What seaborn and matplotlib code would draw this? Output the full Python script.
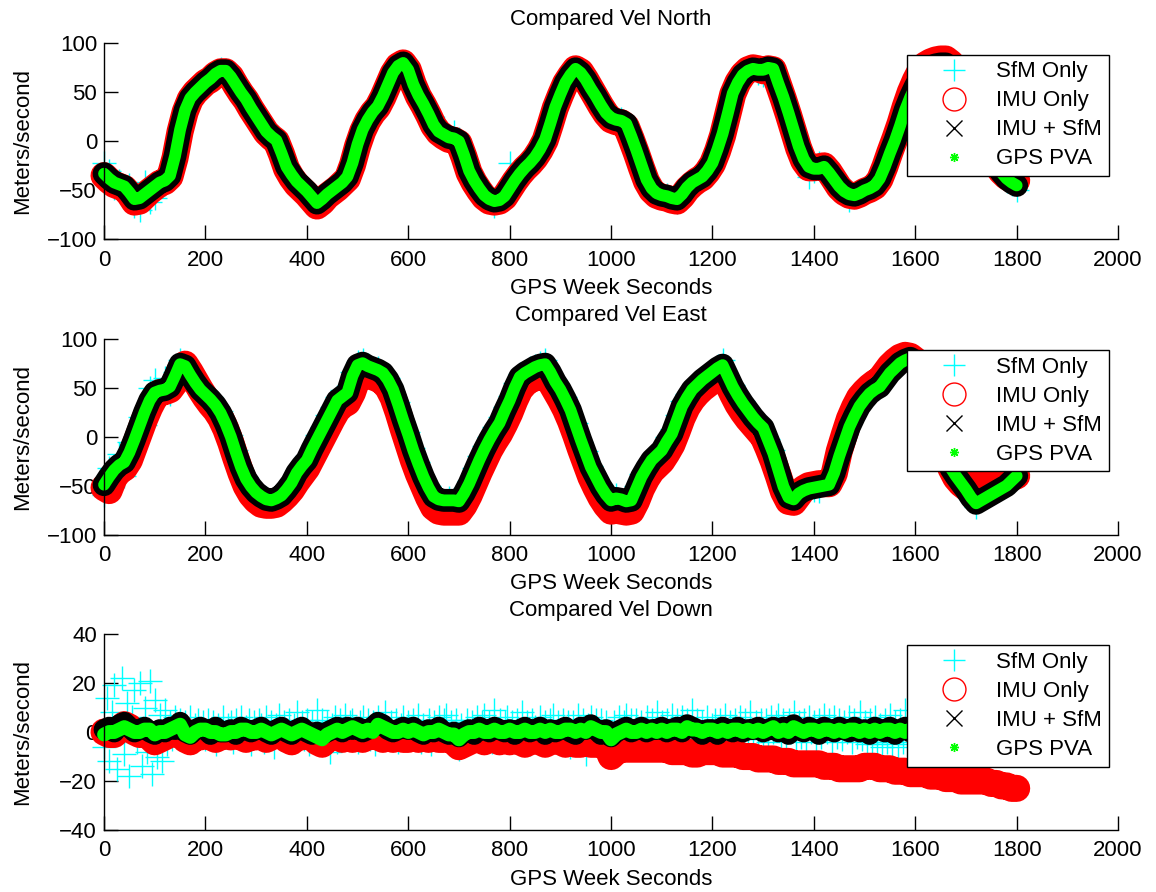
import matplotlib
matplotlib.use("Agg")
import matplotlib.pyplot as plt
import seaborn as sns
import pandas as pd
from matplotlib.lines import Line2D

# sample times (GPS week seconds, relative), one value every 10 s
t = list(range(0, 1810, 10))
# SfM-only down velocity is shown denser: one value every 5 s
t_down_sfm = list(range(0, 1805, 5))

# ---------------- Compared Vel North ----------------
north_gps = [
    -33, -38, -42, -44, -46, -52, -59, -58, -54, -50,
    -46, -42, -40, -35, -15, 12, 32, 44, 50, 55,
    60, 64, 69, 72, 72, 66, 58, 50, 43, 34,
    26, 18, 10, 5, 1, -12, -26, -34, -41, -46,
    -51, -57, -63, -59, -54, -50, -46, -42, -36, -22,
    -3, 12, 22, 30, 36, 46, 58, 70, 77, 80,
    73, 58, 47, 38, 28, 17, 10, 7, 4, 3,
    0, -14, -30, -40, -48, -55, -59, -61, -60, -56,
    -48, -40, -33, -27, -22, -16, -8, 2, 18, 35,
    48, 60, 68, 74, 70, 63, 54, 46, 37, 29,
    24, 22, 21, 18, 5, -9, -24, -39, -48, -53,
    -55, -56, -58, -59, -54, -47, -42, -39, -36, -30,
    -22, -8, 8, 28, 49, 60, 68, 72, 74, 73,
    73, 75, 74, 59, 45, 29, 12, -5, -18, -26,
    -28, -28, -26, -32, -39, -46, -51, -54, -55, -53,
    -50, -48, -45, -38, -26, -12, 1, 16, 32, 45,
    56, 65, 72, 76, 78, 79, 79, 75, 66, 53,
    40, 27, 14, 2, -8, -17, -25, -32, -38, -42,
    -45]
north_fused = north_gps  # IMU + SfM lies on top of GPS PVA at this scale
north_imu = [
    -35, -40, -44, -46, -48, -54, -62, -61, -56, -51,
    -47, -43, -41, -36, -17, 10, 30, 43, 50, 55,
    60, 63, 68, 71, 71, 66, 57, 49, 42, 33,
    25, 17, 9, 4, 0, -13, -28, -37, -44, -49,
    -54, -60, -66, -62, -56, -52, -48, -43, -38, -24,
    -5, 10, 21, 29, 35, 45, 57, 69, 77, 80,
    73, 58, 46, 37, 27, 16, 9, 5, 2, 1,
    -2, -16, -32, -42, -50, -57, -61, -62, -61, -57,
    -49, -41, -34, -28, -23, -17, -9, 1, 17, 34,
    47, 59, 67, 74, 71, 63, 54, 45, 36, 28,
    22, 20, 19, 15, 2, -12, -27, -41, -50, -55,
    -57, -58, -60, -61, -56, -49, -44, -40, -37, -31,
    -23, -10, 6, 27, 48, 60, 68, 73, 75, 74,
    72, 74, 73, 58, 43, 27, 10, -7, -20, -27,
    -27, -26, -25, -31, -39, -47, -52, -55, -56, -54,
    -51, -49, -46, -39, -26, -11, 3, 18, 35, 50,
    62, 72, 78, 81, 83, 84, 84, 80, 70, 56,
    42, 28, 15, 3, -7, -16, -24, -31, -36, -39,
    -40]
north_sfm = [
    -22, -30, -48, -40, -52, -45, -66, -70, -42, -62,
    -58, -35, -44, -38, -18, 10, 34, 42, 52, 56,
    57, 66, 70, 74, 73, 68, 55, 52, 44, 33,
    28, 15, 12, 7, -2, -10, -28, -33, -43, -45,
    -50, -59, -64, -57, -55, -48, -47, -40, -37, -24,
    -2, 10, 24, 28, 38, 44, 60, 68, 78, 79,
    71, 60, 45, 39, 26, 20, 12, 14, 2, 10,
    2, -12, -32, -38, -50, -54, -61, -66, -58, -57,
    -22, -42, -31, -29, -20, -18, -6, 0, 20, 33,
    50, 58, 70, 73, 72, 61, 55, 44, 38, 27,
    25, 20, 23, 16, 7, -11, -22, -40, -47, -55,
    -57, -55, -60, -62, -52, -48, -40, -41, -35, -31,
    -20, -10, 10, 26, 50, 58, 70, 71, 73, 70,
    68, 74, 72, 61, 43, 30, 10, -3, -20, -36,
    -30, -22, -28, -30, -41, -44, -53, -60, -54, -52,
    -48, -50, -43, -40, -24, -14, 3, 14, 34, 44,
    58, 63, 74, 75, 80, 77, 81, 73, 68, 51,
    42, 25, 16, 0, -10, -15, -27, -30, -40, -44,
    -50]

# ---------------- Compared Vel East ----------------
east_gps = [
    -49, -41, -34, -29, -26, -16, -3, 11, 25, 37,
    45, 47, 48, 51, 62, 74, 72, 63, 55, 48,
    43, 38, 32, 24, 13, 0, -16, -31, -43, -51,
    -57, -61, -64, -65, -63, -60, -54, -47, -37, -30,
    -24, -13, -3, 7, 17, 27, 37, 41, 45, 62,
    73, 75, 72, 70, 68, 65, 58, 48, 33, 17,
    2, -14, -28, -41, -52, -61, -64, -65, -65, -65,
    -66, -58, -48, -36, -24, -13, -3, 6, 14, 26,
    37, 50, 61, 65, 68, 71, 73, 74, 66, 56,
    48, 38, 27, 12, -3, -17, -31, -41, -51, -59,
    -65, -63, -64, -66, -65, -53, -41, -32, -24, -19,
    -14, -5, 3, 17, 31, 40, 48, 53, 58, 62,
    66, 70, 73, 62, 51, 42, 34, 27, 20, 14,
    9, -4, -17, -34, -51, -62, -64, -58, -55, -53,
    -52, -51, -50, -49, -37, -20, -5, 10, 21, 31,
    38, 44, 48, 51, 58, 65, 70, 75, 78, 80,
    77, 70, 58, 42, 25, 8, -15, -32, -40, -47,
    -54, -62, -68, -65, -62, -59, -56, -53, -50, -45,
    -40]
east_fused = east_gps  # IMU + SfM lies on top of GPS PVA at this scale
east_imu = [
    -52, -55, -42, -35, -32, -24, -10, 4, 18, 30,
    40, 45, 46, 48, 55, 68, 74, 66, 57, 48,
    40, 33, 27, 19, 8, -6, -22, -37, -50, -59,
    -65, -69, -70, -70, -69, -65, -60, -54, -46, -39,
    -32, -22, -12, -2, 8, 18, 27, 32, 35, 45,
    60, 62, 62, 61, 59, 56, 50, 40, 25, 8,
    -8, -24, -38, -50, -62, -72, -76, -77, -77, -77,
    -77, -70, -60, -48, -36, -25, -14, -5, 3, 13,
    24, 37, 48, 54, 58, 60, 61, 62, 56, 47,
    38, 28, 16, 2, -13, -27, -41, -52, -62, -70,
    -76, -75, -76, -77, -76, -66, -53, -43, -35, -30,
    -25, -17, -8, 5, 19, 30, 38, 44, 49, 53,
    57, 60, 62, 54, 43, 33, 25, 18, 12, 6,
    0, -12, -25, -40, -56, -66, -67, -60, -53, -50,
    -49, -48, -48, -48, -38, -15, 2, 18, 30, 40,
    46, 51, 55, 58, 65, 72, 77, 81, 83, 82,
    78, 70, 58, 42, 24, 6, -14, -32, -42, -48,
    -52, -50, -45, -42, -42, -43, -44, -45, -44, -42,
    -40]
east_sfm = [
    -60, -32, -45, -18, -40, -5, -15, 20, 12, 50,
    58, 38, 60, 44, 66, 78, 70, 62, 52, 50,
    40, 41, 30, 26, 12, 2, -14, -33, -41, -52,
    -55, -62, -63, -67, -62, -58, -52, -49, -35, -28,
    -20, -15, 2, 10, 22, 30, 40, 48, 50, 66,
    76, 78, 73, 68, 70, 63, 60, 46, 35, 15,
    5, -12, -26, -43, -50, -62, -62, -66, -63, -64,
    -64, -55, -45, -32, -20, -10, 0, 10, 20, 30,
    42, 55, 64, 66, 70, 72, 75, 78, 64, 58,
    45, 40, 25, 14, -5, -15, -30, -43, -49, -60,
    -63, -60, -65, -64, -63, -50, -38, -30, -22, -17,
    -12, 0, 8, 22, 36, 44, 50, 55, 60, 63,
    68, 72, 78, 60, 53, 40, 36, 24, 22, 12,
    6, -2, -14, -36, -48, -64, -62, -56, -57, -50,
    -54, -55, -48, -47, -32, -15, 0, 14, 25, 35,
    42, 46, 50, 53, 62, 66, 72, 76, 80, 78,
    75, 72, 56, 44, 22, 10, -12, -30, -38, -45,
    -55, -64, -72, -63, -60, -57, -54, -51, -48, -42,
    -36]

# ---------------- Compared Vel Down ----------------
down_gps = [
    -1, 0, 0, 1, 2, 1, 0, 0, 1, 1,
    -1, 0, 0, 1, 2, 3, -1, -2, 0, 1,
    1, 0, 0, -1, -1, 0, 0, 1, 1, 0,
    0, 1, 0, -1, 0, 1, 0, -1, 0, 1,
    0, -1, -2, -3, -1, 0, 1, 0, 1, 2,
    1, 0, 1, 0, 3, 2, 1, 0, 0, 1,
    0, 1, 0, -1, 0, 0, 1, 0, -1, -1,
    -3, -1, 0, 0, 1, 0, 0, 1, 0, 0,
    1, 0, 0, 1, 0, 0, 1, 0, 1, 0,
    0, 1, 1, 0, 1, 0, 2, 1, 0, 0,
    -3, -1, 0, 1, 0, 0, 1, 0, 1, 0,
    1, 0, 1, 1, 0, 2, 1, 1, 0, 1,
    1, 0, 1, 0, 1, 1, 0, 1, 0, 1,
    0, 1, 2, 0, 1, 0, 2, 1, 0, 1,
    1, 0, 1, 1, 0, 1, 0, 1, 1, 0,
    1, 0, 1, 0, 1, 1, 0, 1, 0, 1,
    1, 0, 1, 1, 0, 1, 0, 1, 1, 0,
    1, 0, 1, 1, 0, 1, 0, 1, 1, 0,
    0]
down_fused = [
    1, 2, 0, 3, 4, 2, 0, 1, 2, 0,
    -1, 1, 0, 2, 1, 4, 0, -1, 1, 2,
    1, -1, 2, 0, 0, 1, -1, 2, 1, 0,
    1, 2, 0, -1, 1, 2, 0, -1, 1, 2,
    0, -1, 0, -1, 0, 1, 2, 0, 2, 1,
    2, 0, 1, 2, 4, 3, 1, 0, 1, 2,
    1, 2, 0, -1, 1, 0, 2, 0, -1, 0,
    -2, 0, 1, -1, 2, 1, 0, 2, 1, 0,
    1, -1, 1, 2, 0, 1, 2, -1, 1, 0,
    1, 2, 0, -1, 2, 1, 3, 1, -1, 1,
    -2, 0, 1, 2, 0, 1, 2, 0, 1, 1,
    2, 0, 1, 2, 0, 3, 2, 1, -1, 1,
    1, -1, 2, 1, 0, 2, 0, 1, 1, 2,
    0, 1, 2, 0, 2, -1, 3, 1, 0, 2,
    1, -1, 2, 1, 0, 2, 1, 0, 2, 0,
    1, -1, 2, 1, 0, 2, -1, 1, 2, 0,
    1, 2, 0, 1, 2, 0, -1, 1, 2, 1,
    1, 0, 2, 1, 0, 2, -1, 1, 1, 2,
    1]
down_imu = [
    0, -1, -1, 1, 3, 2, 0, -1, 0, -2,
    -4, -3, -2, -1, 0, 2, -3, -4, -2, -2,
    -1, -2, -3, -2, -1, -2, -1, -2, -3, -2,
    -2, -1, -3, -2, -1, -1, -3, -4, -2, -2,
    -1, -2, -4, -5, -3, -2, -1, -3, -2, -3,
    -2, -3, -2, -1, -2, -3, -2, -3, -2, -3,
    -3, -2, -3, -2, -3, -2, -3, -3, -2, -4,
    -6, -5, -4, -3, -3, -4, -3, -3, -4, -3,
    -4, -3, -4, -5, -4, -3, -4, -5, -4, -3,
    -4, -5, -4, -5, -5, -4, -5, -5, -4, -5,
    -10, -8, -7, -7, -7, -7, -7, -7, -7, -7,
    -7, -7, -8, -8, -8, -8, -9, -9, -8, -8,
    -8, -8, -9, -9, -9, -9, -10, -10, -10, -11,
    -11, -11, -11, -12, -12, -12, -13, -13, -13, -13,
    -13, -13, -14, -14, -14, -15, -15, -15, -15, -15,
    -14, -14, -14, -15, -15, -15, -16, -16, -16, -17,
    -17, -17, -17, -18, -18, -18, -19, -19, -19, -20,
    -20, -20, -20, -20, -20, -21, -21, -22, -22, -23,
    -23]
down_sfm = [
    -6, 14, -12, 8, 19, -15, 3, 22, -9, 12,
    -18, 6, 17, -4, 20, -14, 10, -8, 21, -17,
    13, -10, 7, -12, 9, -5, 4, -3, 6, -2,
    5, -3, 4, 1, 6, -4, 3, 5, -2, 4,
    -3, 5, 0, 4, -5, 3, 1, 6, -2, 3,
    4, -4, 5, 0, 6, -3, 2, 5, -5, 4,
    -2, 5, 3, -4, 6, 0, 4, -6, 3, 7,
    -3, 4, 1, 5, -4, 3, 8, -2, 4, -3,
    5, -5, 4, -2, 9, -3, 5, 0, 4, -8,
    3, 6, -4, 5, -2, 7, -3, 4, 5, 0,
    -4, 4, 6, -2, 5, -3, 4, -5, 6, 2,
    0, 8, -3, 4, -2, 5, -4, 3, 6, -2,
    4, -3, 5, 1, 7, -4, 3, -2, 5, -5,
    4, 0, 6, -3, 5, 7, -2, 4, -4, 5,
    -7, 3, -5, 5, -2, 4, -3, 6, 0, 4,
    7, -2, 4, -4, 9, 0, 5, -3, 4, 6,
    -2, 4, -4, 5, 1, 8, -3, 4, -5, 5,
    2, -3, 6, 0, 4, -4, 5, 7, -2, 4,
    -3, 5, 0, 4, -6, 4, -2, 7, -4, 5,
    -9, 3, 6, -2, 5, -3, 5, 0, 4, -4,
    -6, 4, -2, 6, -3, 4, 7, 0, 5, -3,
    5, -2, 4, -4, 6, 0, 5, -3, 8, -2,
    4, -3, 5, 1, 7, -2, 5, -4, 6, 0,
    5, -3, 9, -2, 5, 0, 4, -4, 6, -2,
    3, 5, -3, 5, 0, 7, -2, 4, -4, 5,
    0, 6, -3, 5, -2, 8, 0, 4, -3, 5,
    -2, 5, -4, 6, 0, 4, 7, -3, 5, -2,
    5, 0, 8, -3, 4, -2, 5, -4, 6, 0,
    4, -3, 5, -2, 7, 0, 5, -4, 6, -2,
    5, -3, 4, 0, 6, -4, 5, -2, 8, -3,
    4, -5, 5, -4, 6, -5, 3, -6, 5, -4,
    7, -5, 4, -6, 5, -4, 9, -5, 3, -3,
    5, -2, 6, 0, 4, -3, 5, -2, 5, 0,
    5, -3, 4, -2, 6, 0, 5, -3, 5, -2,
    4, 0, 5, -3, 5, -2, 6, 0, 4, -3,
    5, -2, 5, 0, 6, -3, 4, -2, 5, 0,
    3]

titles = ["Compared Vel North", "Compared Vel East", "Compared Vel Down"]
series_labels = ["SfM Only", "IMU Only", "IMU + SfM", "GPS PVA"]
x_ticks = [0, 200, 400, 600, 800, 1000, 1200, 1400, 1600, 1800, 2000]
y_ticks_hv = [-100, -50, 0, 50, 100]
y_ticks_down = [-40, -20, 0, 20, 40]

# (sfm times, sfm, imu, fused, gps, y-limits, y-ticks, band widths red/black/green)
panels = [
    (t, north_sfm, north_imu, north_fused, north_gps, (-100, 100), y_ticks_hv, (19.5, 16.5, 8.5)),
    (t, east_sfm, east_imu, east_fused, east_gps, (-100, 100), y_ticks_hv, (19.5, 16.5, 8.5)),
    (t_down_sfm, down_sfm, down_imu, down_fused, down_gps, (-40, 40), y_ticks_down, (19.5, 15.0, 10.0)),
]

sns.set_theme(style="white")
plt.rcParams["font.family"] = ["Liberation Sans", "DejaVu Sans"]
plt.rcParams["text.color"] = "black"
plt.rcParams["axes.labelcolor"] = "black"
plt.rcParams["xtick.color"] = "black"
plt.rcParams["ytick.color"] = "black"

FS = 16
C_SFM, C_IMU, C_FUSED, C_GPS = "#00FFFF", "#FF0000", "#000000", "#00FF00"

fig = plt.figure(figsize=(11.56, 8.92), dpi=100, facecolor="white")
bottoms = [0.7317, 0.4006, 0.0695]

for (ts, sfm, imu, fused, gps, ylim, yticks, widths), title, b in zip(panels, titles, bottoms):
    ax = fig.add_axes([0.0900, b, 0.8772, 0.2197])
    df = pd.DataFrame({"t": t, "imu": imu, "fused": fused, "gps": gps})
    df_sfm = pd.DataFrame({"t": ts, "sfm": sfm})
    w_imu, w_fused, w_gps = widths

    sns.scatterplot(data=df_sfm, x="t", y="sfm", ax=ax, marker="+", s=275,
                    color=C_SFM, linewidth=1.0, zorder=1, legend=False, clip_on=False)
    line_kw = dict(estimator=None, sort=False, legend=False,
                   solid_capstyle="round", solid_joinstyle="round", clip_on=False)
    sns.lineplot(data=df, x="t", y="imu", ax=ax, color=C_IMU, linewidth=w_imu, zorder=2, **line_kw)
    sns.lineplot(data=df, x="t", y="fused", ax=ax, color=C_FUSED, linewidth=w_fused, zorder=3, **line_kw)
    sns.lineplot(data=df, x="t", y="gps", ax=ax, color=C_GPS, linewidth=w_gps, zorder=4, **line_kw)

    ax.set_xlim(0, 2000)
    ax.set_ylim(*ylim)
    ax.set_xticks(x_ticks)
    ax.set_yticks(yticks)
    ax.set_facecolor("white")
    for s in ["top", "right"]:
        ax.spines[s].set_visible(False)
    for s in ["left", "bottom"]:
        ax.spines[s].set_color("black")
        ax.spines[s].set_linewidth(1.0)
        ax.spines[s].set_zorder(5)
    ax.tick_params(axis="both", which="major", direction="in", length=10, width=1,
                   bottom=True, left=True, labelsize=FS, colors="black")
    ax.tick_params(axis="x", pad=7.5)
    ax.tick_params(axis="y", pad=5.0)

    ax.set_title(title, fontsize=FS, pad=13, color="black")
    ax.set_xlabel("GPS Week Seconds", fontsize=FS)
    ax.set_ylabel("Meters/second", fontsize=FS)
    ax.xaxis.set_label_coords(0.5, -0.197)
    ax.yaxis.set_label_coords(-0.070, 0.5)

    handles = [
        Line2D([], [], ls="none", marker="+", ms=16.5, mew=1.0, color=C_SFM),
        Line2D([], [], ls="none", marker="o", ms=16.5, mew=1.0, mfc="none", mec=C_IMU),
        Line2D([], [], ls="none", marker="x", ms=11.5, mew=1.0, color=C_FUSED),
        Line2D([], [], ls="none", marker=(8, 2, 0), ms=6.5, mew=1.0, color=C_GPS),
    ]
    leg = ax.legend(handles, series_labels, loc="upper right", bbox_to_anchor=(0.991, 0.942),
                    borderaxespad=0, frameon=True, fancybox=False, shadow=False,
                    edgecolor="black", facecolor="white", framealpha=1, fontsize=FS,
                    borderpad=0.3, handlelength=3.63, handletextpad=0.08,
                    labelspacing=0.36, numpoints=1)
    leg.get_frame().set_linewidth(1.0)
    leg.set_zorder(10)

fig.savefig("out.png", dpi=100, facecolor="white")
